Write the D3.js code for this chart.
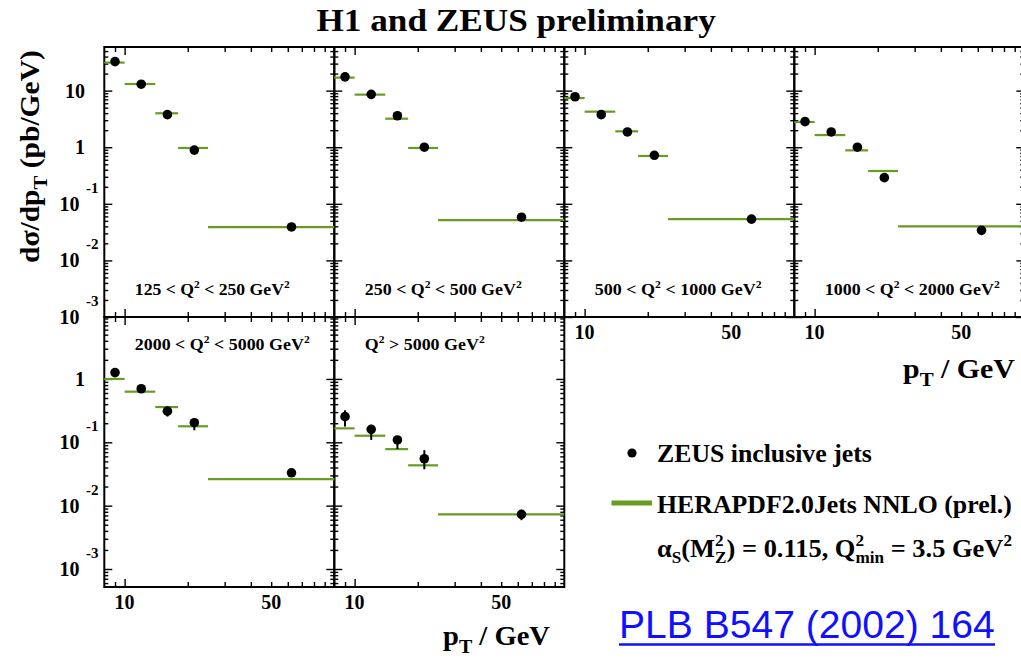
<!DOCTYPE html>
<html><head><meta charset="utf-8">
<script src="https://cdn.jsdelivr.net/npm/d3@7"></script>
<style>
body{margin:0;background:#fff;}
svg{display:block;overflow:hidden;}
text{font-family:"Liberation Serif","Times New Roman",serif;font-weight:bold;fill:#000;}
</style></head><body>
<svg id="c" width="1021" height="659"></svg>
<script>
// ---------------- data ----------------
const binEdges   = [8, 10, 14, 18, 25, 100];
const binCentres = [9, 12, 16, 21.5, 62.5];
const xDomain = [8, 100];
const xMajorTicks = [10];
const xMinorTicks = [9, 20, 30, 40, 50, 60, 70, 80, 90];
const xTickLabels = [10, 50];
const yDomainTop = [1e-3, 59];
const yDomainBottom = [5.2e-4, 9.5];
const yLabelsTop = [10, 1, 0.1, 0.01, 0.001];
const yLabelsBottom = [1, 0.1, 0.01, 0.001];

// ZEUS inclusive jets, per Q2 bin (pb/GeV)
const zeusQ1 = [32.6, 13.0, 3.76, 0.89, 0.039];
const zeusQ2 = [17.5, 8.6, 3.6, 1.0, 0.058];
const zeusQ3 = [7.8, 3.76, 1.86, 0.72, 0.0536];
const zeusQ4 = [2.83, 1.86, 1.0, 0.29, 0.034];
const zeusQ5 = [1.26, 0.70, 0.31, 0.204, 0.033];
const zeusQ6 = [0.254, 0.16, 0.109, 0.055, 0.0073];
// error bar ends
const zeusLoQ1 = [31.2, 12.5, 3.6, 0.85, 0.037];
const zeusHiQ1 = [34.0, 13.5, 3.92, 0.93, 0.041];
const zeusLoQ2 = [16.8, 8.25, 3.45, 0.95, 0.055];
const zeusHiQ2 = [18.2, 8.95, 3.75, 1.05, 0.061];
const zeusLoQ3 = [7.5, 3.6, 1.78, 0.68, 0.050];
const zeusHiQ3 = [8.1, 3.92, 1.94, 0.76, 0.057];
const zeusLoQ4 = [2.72, 1.78, 0.95, 0.27, 0.031];
const zeusHiQ4 = [2.94, 1.94, 1.05, 0.31, 0.037];
const zeusLoQ5 = [1.15, 0.64, 0.255, 0.155, 0.029];
const zeusHiQ5 = [1.37, 0.76, 0.36, 0.24, 0.037];
const zeusLoQ6 = [0.177, 0.109, 0.078, 0.0375, 0.0059];
const zeusHiQ6 = [0.32, 0.188, 0.126, 0.075, 0.0086];
// HERAPDF2.0Jets NNLO prediction
const heraQ1 = [31.3, 13.1, 3.98, 0.97, 0.0387];
const heraQ2 = [17.0, 8.5, 3.19, 0.97, 0.0515];
const heraQ3 = [7.4, 4.25, 1.91, 0.70, 0.0536];
const heraQ4 = [2.79, 1.64, 0.88, 0.38, 0.040];
const heraQ5 = [1.0, 0.63, 0.36, 0.179, 0.0263];
const heraQ6 = [0.166, 0.127, 0.078, 0.0433, 0.00728];

const q2Labels = [
  [["125 < Q"],["2","sup"],[" < 250 GeV"],["2","sup"]],
  [["250 < Q"],["2","sup"],[" < 500 GeV"],["2","sup"]],
  [["500 < Q"],["2","sup"],[" < 1000 GeV"],["2","sup"]],
  [["1000 < Q"],["2","sup"],[" < 2000 GeV"],["2","sup"]],
  [["2000 < Q"],["2","sup"],[" < 5000 GeV"],["2","sup"]],
  [["Q"],["2","sup"],[" > 5000 GeV"],["2","sup"]]
];

// ---------------- layout ----------------
const GREEN = "#679b22";
const PL = 104.3, PT = 47, PW = 230, PH = 270;
const svg = d3.select("#c");

const panelDefs = [
  {row:0,col:0,z:zeusQ1,lo:zeusLoQ1,hi:zeusHiQ1,h:heraQ1,lab:q2Labels[0],labW:155,xlab:false},
  {row:0,col:1,z:zeusQ2,lo:zeusLoQ2,hi:zeusHiQ2,h:heraQ2,lab:q2Labels[1],labW:157,xlab:false},
  {row:0,col:2,z:zeusQ3,lo:zeusLoQ3,hi:zeusHiQ3,h:heraQ3,lab:q2Labels[2],labW:167,xlab:true},
  {row:0,col:3,z:zeusQ4,lo:zeusLoQ4,hi:zeusHiQ4,h:heraQ4,lab:q2Labels[3],labW:175,xlab:true},
  {row:1,col:0,z:zeusQ5,lo:zeusLoQ5,hi:zeusHiQ5,h:heraQ5,lab:q2Labels[4],labW:175,xlab:true},
  {row:1,col:1,z:zeusQ6,lo:zeusLoQ6,hi:zeusHiQ6,h:heraQ6,lab:q2Labels[5],labW:120,xlab:true}
];

function minorDecade(domain){
  const out=[];
  for(let e=-5;e<=2;e++) for(let k=2;k<=9;k++){const v=k*Math.pow(10,e); if(v>domain[0]&&v<domain[1]) out.push(v);}
  return out;
}
function majorDecade(domain){
  const out=[];
  for(let e=-5;e<=2;e++){const v=Math.pow(10,e); if(v>=domain[0]*0.999&&v<=domain[1]) out.push(v);}
  return out;
}

// rich text helper
function rich(parent, parts, o){
  const g = parent.append("g");
  const t = g.append("text").attr("x",0).attr("y",0).style("font-size",o.size+"px");
  if(o.family) t.style("font-family",o.family);
  if(o.weight) t.style("font-weight",o.weight);
  if(o.fill) t.style("fill",o.fill);
  let cur=0, prev=null;
  parts.forEach(p=>{
    const kind=p[1]||"n", back=p[2]==="back";
    let sz=o.size, off=0;
    if(kind==="sup"){sz=o.size*0.65; off=-0.45*o.size;}
    if(kind==="sub"){sz=o.size*0.65; off=0.25*o.size;}
    if(kind==="sub2"){sz=o.size*0.7; off=0.3*o.size;}
    const ts=t.append("tspan").text(p[0]).style("font-size",sz+"px").attr("dy",off-cur);
    if(back && prev) ts.attr("dx",-prev.node().getComputedTextLength());
    cur=off; prev=ts;
  });
  const bb=t.node().getBBox();
  const sx = o.width ? o.width/bb.width : 1;
  const f = o.anchor==="end"?1:(o.anchor==="middle"?0.5:0);
  const off = -bb.x - bb.width*f;
  let tr = `translate(${o.x},${o.y})`;
  if(o.rotate) tr += ` rotate(${o.rotate})`;
  tr += ` scale(${sx},1) translate(${off},0)`;
  g.attr("transform",tr);
  return g;
}

const gFrames = svg.append("g");
const gData = svg.append("g");

panelDefs.forEach(p=>{
  const x0 = PL + p.col*PW, y0 = PT + p.row*PH;
  const x = d3.scaleLog().domain(xDomain).range([x0, x0+PW]);
  const y = d3.scaleLog().domain(p.row===0?yDomainTop:yDomainBottom).range([y0+PH, y0]);
  const yd = y.domain();

  const g = gFrames.append("g");
  function ax(axisFn, scale, vals, size, tr){
    const a = g.append("g").attr("transform",tr)
      .call(axisFn(scale).tickValues(vals).tickSize(-size).tickFormat(""));
    a.select(".domain").remove();
    a.selectAll("line").attr("stroke","#000").attr("stroke-width",1.4);
  }
  ax(d3.axisBottom, x, xMinorTicks, 5, `translate(0,${y0+PH})`);
  ax(d3.axisBottom, x, xMajorTicks, 8, `translate(0,${y0+PH})`);
  ax(d3.axisTop, x, xMinorTicks, 5, `translate(0,${y0})`);
  ax(d3.axisTop, x, xMajorTicks, 8, `translate(0,${y0})`);
  ax(d3.axisLeft, y, minorDecade(yd), 4, `translate(${x0},0)`);
  ax(d3.axisLeft, y, majorDecade(yd), 8, `translate(${x0},0)`);
  ax(d3.axisRight, y, minorDecade(yd), 4, `translate(${x0+PW},0)`);
  ax(d3.axisRight, y, majorDecade(yd), 8, `translate(${x0+PW},0)`);
  g.append("rect").attr("x",x0).attr("y",y0).attr("width",PW).attr("height",PH)
    .attr("fill","none").attr("stroke","#000").attr("stroke-width",2);

  // x tick labels
  if(p.xlab){
    xTickLabels.forEach(v=>{
      g.append("text").attr("x",x(v)).attr("y",y0+PH+22).attr("text-anchor","middle")
        .style("font-size","20px").text(v);
    });
  }
  // y tick labels
  if(p.col===0){
    (p.row===0?yLabelsTop:yLabelsBottom).forEach(v=>{
      const e=Math.round(Math.log10(v)), yy=y(v);
      if(e===0||e===1){
        g.append("text").attr("x",85).attr("y",yy+7).attr("text-anchor","end").style("font-size","20px").text(e===1?"10":"1");
      } else {
        g.append("text").attr("x",79.5).attr("y",yy+7).attr("text-anchor","end").style("font-size","20px").text("10");
        g.append("text").attr("x",86).attr("y",yy-11).attr("text-anchor","start").style("font-size","15px").text(String(e));
      }
    });
  }
  // panel label
  rich(g, p.lab, {x:x0+30.5, y: p.row===0 ? y0+PH-22 : y0+33, size:16.5, width:p.labW});

  // data
  const d = gData.append("g");
  p.h.forEach((v,i)=>{
    d.append("line").attr("x1",x(binEdges[i])).attr("x2",x(binEdges[i+1]))
      .attr("y1",y(v)).attr("y2",y(v)).attr("stroke",GREEN).attr("stroke-width",2.2);
  });
  p.z.forEach((v,i)=>{
    d.append("line").attr("x1",x(binCentres[i])).attr("x2",x(binCentres[i]))
      .attr("y1",y(p.lo[i])).attr("y2",y(p.hi[i])).attr("stroke","#000").attr("stroke-width",2);
  });
  p.z.forEach((v,i)=>{
    d.append("circle").attr("cx",x(binCentres[i])).attr("cy",y(v)).attr("r",4.8).attr("fill","#000");
  });
});

// titles
rich(svg, [["H1 and ZEUS preliminary"]], {x:516.5, y:31, size:31, anchor:"middle", width:400});
rich(svg, [["dσ/dp"],["T","sub2"],[" (pb/GeV)"]], {x:39, y:50, size:28, anchor:"end", rotate:-90, width:213});
rich(svg, [["p"],["T","sub2"],[" / GeV"]], {x:550, y:645, size:28, anchor:"end", width:107});
rich(svg, [["p"],["T","sub2"],[" / GeV"]], {x:1015, y:378, size:28, anchor:"end", width:112});

// legend
svg.append("circle").attr("cx",632).attr("cy",453).attr("r",4.6).attr("fill","#000");
rich(svg, [["ZEUS inclusive jets"]], {x:657, y:462, size:25.5, width:215});
svg.append("line").attr("x1",611.5).attr("x2",652).attr("y1",503).attr("y2",503).attr("stroke",GREEN).attr("stroke-width",5);
rich(svg, [["HERAPDF2.0Jets NNLO (prel.)"]], {x:657, y:513, size:25.5, width:355});
rich(svg, [["α"],["S","sub"],["(M"],["2","sup"],["Z","sub","back"],[") = 0.115, Q"],["2","sup"],["min","sub","back"],[" = 3.5 GeV"],["2","sup"]],
  {x:657, y:557, size:25.5, width:355});

// reference link
rich(svg, [["PLB B547 (2002) 164"]], {x:619, y:638, size:38, width:376, family:"'Liberation Sans',Arial,sans-serif", weight:"normal", fill:"#1010ff"});
svg.append("line").attr("x1",619).attr("x2",995).attr("y1",644.5).attr("y2",644.5).attr("stroke","#1010ff").attr("stroke-width",2.5);
</script>
</body></html>
